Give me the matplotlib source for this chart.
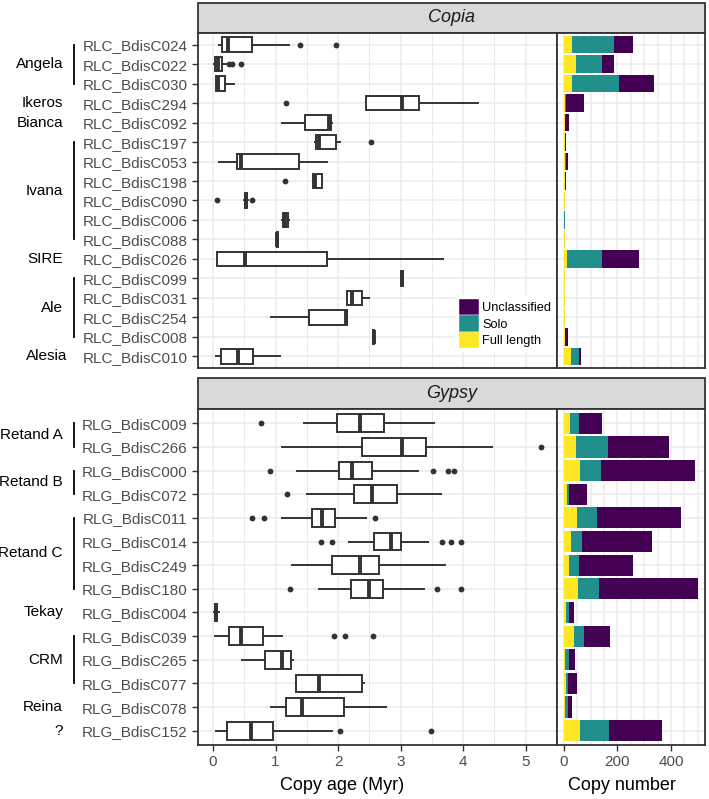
import matplotlib
matplotlib.use("Agg")
import matplotlib.pyplot as plt
from matplotlib.patches import Patch, Rectangle
from matplotlib.transforms import blended_transform_factory

plt.rcParams["font.family"] = ["Liberation Sans", "DejaVu Sans"]

# ---- Copia data ----
copia_ids = ["RLC_BdisC024", "RLC_BdisC022", "RLC_BdisC030", "RLC_BdisC294",
             "RLC_BdisC092", "RLC_BdisC197", "RLC_BdisC053", "RLC_BdisC198",
             "RLC_BdisC090", "RLC_BdisC006", "RLC_BdisC088", "RLC_BdisC026",
             "RLC_BdisC099", "RLC_BdisC031", "RLC_BdisC254", "RLC_BdisC008",
             "RLC_BdisC010"]
copia_family = ["Angela", "Angela", "Angela", "Ikeros", "Bianca", "Ivana", "Ivana",
                "Ivana", "Ivana", "Ivana", "Ivana", "SIRE", "Ale", "Ale", "Ale", "Ale",
                "Alesia"]
copia_whislo = [0.10, 0.02, 0.04, 2.44, 1.11, 1.63, 0.10, 1.60, 0.50, 1.10, 1.02, 0.07,
                3.01, 2.14, 0.92, 2.56, 0.05]
copia_q1 = [0.15, 0.03, 0.05, 2.44, 1.47, 1.65, 0.38, 1.60, 0.51, 1.12, 1.02, 0.07,
            3.01, 2.15, 1.53, 2.56, 0.12]
copia_med = [0.235, 0.08, 0.08, 3.02, 1.86, 1.69, 0.44, 1.63, 0.53, 1.15, 1.03, 0.51,
             3.02, 2.22, 2.13, 2.57, 0.40]
copia_q3 = [0.62, 0.14, 0.19, 3.30, 1.88, 1.96, 1.38, 1.75, 0.55, 1.20, 1.04, 1.82,
            3.03, 2.39, 2.15, 2.58, 0.64]
copia_whishi = [1.22, 0.20, 0.34, 4.24, 1.90, 2.03, 1.82, 1.75, 0.56, 1.22, 1.04, 3.67,
                3.03, 2.50, 2.15, 2.58, 1.07]
copia_fliers = [[1.39, 1.96], [0.26, 0.31, 0.44], [], [1.16], [], [2.53], [], [1.15],
                [0.07, 0.63], [], [], [], [], [], [], [], []]
copia_full = [29, 45, 29, 3, 3, 5, 4, 5, 5, 2, 3, 10, 3, 3, 3, 3, 25]
copia_solo = [158, 96, 175, 5, 1, 0, 2, 0, 0, 1, 0, 132, 0, 0, 0, 0, 30]
copia_uncl = [71, 45, 134, 67, 15, 1, 9, 1, 0, 1, 0, 137, 0, 1, 0, 12, 10]

# ---- Gypsy data ----
gypsy_ids = ["RLG_BdisC009", "RLG_BdisC266", "RLG_BdisC000", "RLG_BdisC072",
             "RLG_BdisC011", "RLG_BdisC014", "RLG_BdisC249", "RLG_BdisC180",
             "RLG_BdisC004", "RLG_BdisC039", "RLG_BdisC265", "RLG_BdisC077",
             "RLG_BdisC078", "RLG_BdisC152"]
gypsy_family = ["Retand A", "Retand A", "Retand B", "Retand B", "Retand C", "Retand C",
                "Retand C", "Retand C", "Tekay", "CRM", "CRM", "CRM", "Reina", "?"]
gypsy_whislo = [1.45, 1.10, 1.34, 1.51, 1.10, 2.18, 1.27, 1.69, 0.01, 0.03, 0.47, 1.32,
                0.92, 0.05]
gypsy_q1 = [1.99, 2.38, 2.02, 2.26, 1.58, 2.58, 1.91, 2.20, 0.03, 0.25, 0.83, 1.32,
            1.17, 0.23]
gypsy_med = [2.35, 3.02, 2.23, 2.54, 1.75, 2.84, 2.35, 2.49, 0.05, 0.45, 1.11, 1.70,
             1.42, 0.60]
gypsy_q3 = [2.74, 3.41, 2.55, 2.94, 1.95, 3.00, 2.65, 2.71, 0.07, 0.80, 1.24, 2.39,
            2.09, 0.96]
gypsy_whishi = [3.54, 4.46, 3.27, 3.64, 2.44, 3.43, 3.71, 3.37, 0.09, 1.11, 1.28, 2.41,
                2.76, 1.90]
gypsy_fliers = [[0.76], [5.25], [0.91, 3.51, 3.75, 3.85], [1.19], [0.63, 0.82, 2.59],
                [1.72, 1.91, 3.66, 3.80, 3.97], [], [1.23, 3.58, 3.97], [],
                [1.93, 2.11, 2.56], [], [], [], [2.03, 3.48]]
gypsy_full = [24, 46, 59, 10, 49, 27, 19, 51, 9, 36, 5, 6, 5, 59]
gypsy_solo = [31, 117, 80, 9, 74, 42, 36, 79, 10, 39, 12, 9, 10, 109]
gypsy_uncl = [86, 230, 349, 68, 316, 259, 203, 370, 18, 97, 25, 32, 15, 198]

seg_labels = ["Full length", "Solo", "Unclassified"]
seg_colors = ["#FDE725", "#21908C", "#440154"]

W, H = 709, 799
DARK = "#333333"
TXT = "#4D4D4D"
GRID = "#EBEBEB"

fig = plt.figure(figsize=(W / 100, H / 100), dpi=100)


def fbox(x0, y0, x1, y1):
    # pixel box (top-left origin) -> figure fraction rect
    return [x0 / W, 1 - y1 / H, (x1 - x0) / W, (y1 - y0) / H]


def style_axis(ax):
    ax.set_facecolor("white")
    ax.set_axisbelow(True)
    for sp in ax.spines.values():
        sp.set_color(DARK)
        sp.set_linewidth(1.3)
    ax.tick_params(colors=DARK, labelcolor=TXT, labelsize=11, width=1.0, length=4)


def draw_panel(title, ids, family, whislo, q1, med, q3, whishi, fliers,
               full, solo, uncl, top, bottom, strip_top, show_x):
    n = len(ids)
    pos = list(range(n))

    # strip
    sax = fig.add_axes(fbox(198, strip_top, 705, top))
    sax.set_xlim(0, 1)
    sax.set_ylim(0, 1)
    sax.axis("off")
    sax.add_patch(Rectangle((0, 0), 1, 1, facecolor="#D9D9D9", edgecolor=DARK,
                            linewidth=1.3, clip_on=False))
    sax.text(0.5, 0.5, title, ha="center", va="center", fontsize=13,
             style="italic", color="#1A1A1A")

    # boxplots
    ax = fig.add_axes(fbox(198, top, 557, bottom))
    style_axis(ax)
    stats = []
    for i in range(n):
        stats.append(dict(med=med[i], q1=q1[i], q3=q3[i], whislo=whislo[i],
                          whishi=whishi[i], fliers=fliers[i]))
    ax.bxp(stats, positions=pos, widths=0.75, orientation="horizontal",
           showcaps=False, patch_artist=True,
           boxprops=dict(facecolor="white", edgecolor=DARK, linewidth=1.4),
           whiskerprops=dict(color=DARK, linewidth=1.4),
           medianprops=dict(color=DARK, linewidth=2.8, solid_capstyle="butt"),
           flierprops=dict(marker="o", markerfacecolor=DARK, markeredgecolor="none",
                           markersize=4.2))
    ax.set_xlim(-0.24, 5.5)
    ax.set_ylim(n - 1 + 0.6, -0.6)
    ax.set_yticks(pos)
    ax.set_yticklabels(ids)
    ax.set_xticks([0, 1, 2, 3, 4, 5])
    ax.set_xticks([0.5, 1.5, 2.5, 3.5, 4.5, 5.5], minor=True)
    ax.tick_params(axis="x", which="minor", length=0)
    ax.grid(True, which="major", color=GRID, linewidth=1.1)
    ax.grid(True, which="minor", axis="x", color=GRID, linewidth=0.7)

    # stacked bars
    bx = fig.add_axes(fbox(557, top, 705, bottom))
    style_axis(bx)
    left = [0] * n
    for vals, col, lab in zip([full, solo, uncl], seg_colors, seg_labels):
        bx.barh(pos, vals, left=left, height=0.9, color=col, edgecolor="none",
                label=lab)
        left = [a + b for a, b in zip(left, vals)]
    bx.set_xlim(-26, 527)
    bx.set_ylim(n - 1 + 0.6, -0.6)
    bx.set_yticks(pos)
    bx.set_yticklabels([])
    bx.tick_params(axis="y", length=0)
    bx.set_xticks([0, 200, 400])
    bx.set_xticks([50, 100, 150, 250, 300, 350, 450, 500], minor=True)
    bx.tick_params(axis="x", which="minor", length=0)
    bx.grid(True, which="major", color=GRID, linewidth=1.1)
    bx.grid(True, which="minor", axis="x", color=GRID, linewidth=1.1)

    if not show_x:
        for a in (ax, bx):
            a.tick_params(axis="x", which="both", length=0, labelbottom=False)

    # family labels and brackets
    tr = blended_transform_factory(fig.transFigure, ax.transData)
    start = 0
    for i in range(1, n + 1):
        if i == n or family[i] != family[start]:
            name = family[start]
            ymid = (start + i - 1) / 2
            xr = 67 if name == "Alesia" else 63
            ax.text(xr / W, ymid, name, transform=tr, ha="right", va="center",
                    fontsize=11, color="black", clip_on=False)
            if i - 1 > start:
                ax.plot([74 / W, 74 / W], [start, i - 1], transform=tr, color="black",
                        linewidth=1.3, clip_on=False)
            start = i
    return ax, bx


ax1, bx1 = draw_panel("Copia", copia_ids, copia_family, copia_whislo, copia_q1,
                      copia_med, copia_q3, copia_whishi, copia_fliers,
                      copia_full, copia_solo, copia_uncl, 33, 368, 3, False)
ax2, bx2 = draw_panel("Gypsy", gypsy_ids, gypsy_family, gypsy_whislo, gypsy_q1,
                      gypsy_med, gypsy_q3, gypsy_whishi, gypsy_fliers,
                      gypsy_full, gypsy_solo, gypsy_uncl, 409, 745, 378, True)

# legend inside the Copia boxplot panel
handles = [Patch(facecolor=c, edgecolor="white", linewidth=0.3, label=l)
           for c, l in zip(seg_colors[::-1], seg_labels[::-1])]
ax1.legend(handles=handles, loc="upper left",
           bbox_to_anchor=(455 / W, 1 - 295 / H), bbox_transform=fig.transFigure,
           fontsize=9.2, frameon=True, facecolor="white", edgecolor="none",
           framealpha=1, fancybox=False, borderpad=0.3, labelspacing=0,
           handlelength=1.6, handleheight=1.6, handletextpad=0.25,
           borderaxespad=0)

fig.text(342 / W, 1 - 786 / H, "Copy age (Myr)", ha="center", va="center",
         fontsize=13, color="black")
fig.text(622 / W, 1 - 786 / H, "Copy number", ha="center", va="center",
         fontsize=13, color="black")

fig.savefig("out.png", dpi=100)
